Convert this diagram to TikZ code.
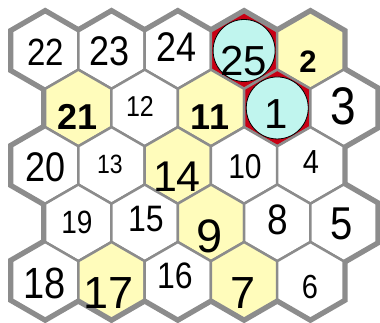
\documentclass[tikz,border=0pt]{standalone}
\usepackage{fontspec}
\setmainfont{Liberation Sans}
\usepackage{xcolor}

\definecolor{hexgray}{RGB}{140,140,140}
\definecolor{hexyellow}{RGB}{255,252,187}
\definecolor{hexred}{RGB}{200,0,20}
\definecolor{hexcyan}{RGB}{192,245,238}

% hexagon round the current point, pointy top
\newcommand{\hexpath}{+(90:38.3) -- +(30:38.3) -- +(-30:38.3) -- +(-90:38.3) -- +(-150:38.3) -- +(150:38.3) -- cycle}
\def\celllist{0/0/white,0/1/white,0/2/white,0/3/hexred,0/4/hexyellow,
1/0/hexyellow,1/1/white,1/2/hexyellow,1/3/hexred,1/4/white,
2/0/white,2/1/white,2/2/hexyellow,2/3/white,2/4/white,
3/0/white,3/1/white,3/2/hexyellow,3/3/white,3/4/white,
4/0/white,4/1/hexyellow,4/2/white,4/3/hexyellow,4/4/white}

\begin{document}
\begin{tikzpicture}[
    x=1pt, y=-1pt,
    rim/.style={draw=hexgray, line width=8pt, line join=miter},
    cell/.style={draw=hexgray, line width=2.5pt, line join=miter},
    ring/.style={circle, draw=black, line width=0.8pt, fill=hexcyan, minimum size=62pt, inner sep=0pt},
    typed/.style={inner sep=0pt, font=\fontsize{#1}{#1}\selectfont},
    heavy/.style={inner sep=0pt, font=\fontsize{#1}{#1}\selectfont\bfseries},
    hand/.style={inner sep=0pt, yscale=1.15, transform shape, font=\fontsize{#1}{#1}\selectfont}
]
\useasboundingbox (0,0) rectangle (380,322);

% Cell centres
\foreach \r/\c/\col in \celllist
    \coordinate (h\r\c) at ({45.2+66.3*\c+33.15*mod(\r,2)},{50.5+57.45*\r});

% Outer rim, then cells
\foreach \r/\c/\col in \celllist
    \draw[rim] (h\r\c) \hexpath;
\foreach \r/\c/\col in \celllist
    \filldraw[cell, fill=\col] (h\r\c) \hexpath;

% Circles
\node[ring] (o25) at (h03) {};
\node[ring] (o1) at (h13) {};

% Typed numbers
\node[typed=42] (n25) at (244,61) {25};
\node[heavy=31] (n2) at (308,62) {2};
\node[heavy=36] (n21) at (77.5,117) {21};
\node[heavy=36] (n11) at (210,117) {11};
\node[typed=42] (n1) at (276,114) {1};
\node[typed=43] (n14) at (177,177) {14};
\node[typed=47] (n9) at (210,236) {9};
\node[typed=45] (n17) at (109,293) {17};
\node[typed=45] (n7) at (243,293) {7};

% Handwritten numbers
\node[hand=33] (n22) at (46,52) {22};
\node[hand=36] (n23) at (110,51) {23};
\node[hand=36] (n24) at (177,47) {24};
\node[hand=25] (n12) at (140,106) {12};
\node[hand=46] (n3) at (343,106) {3};
\node[hand=36] (n20) at (46,167) {20};
\node[hand=23] (n13) at (110,164) {13};
\node[hand=30] (n10) at (245,167) {10};
\node[hand=29] (n4) at (311,162) {4};
\node[hand=28] (n19) at (77,222) {19};
\node[hand=32] (n15) at (146,219) {15};
\node[hand=37] (n8) at (278,220) {8};
\node[hand=40] (n5) at (342,224) {5};
\node[hand=38] (n18) at (45,283) {18};
\node[hand=32] (n16) at (175,276) {16};
\node[hand=29] (n6) at (310,287) {6};

\end{tikzpicture}
\end{document}
